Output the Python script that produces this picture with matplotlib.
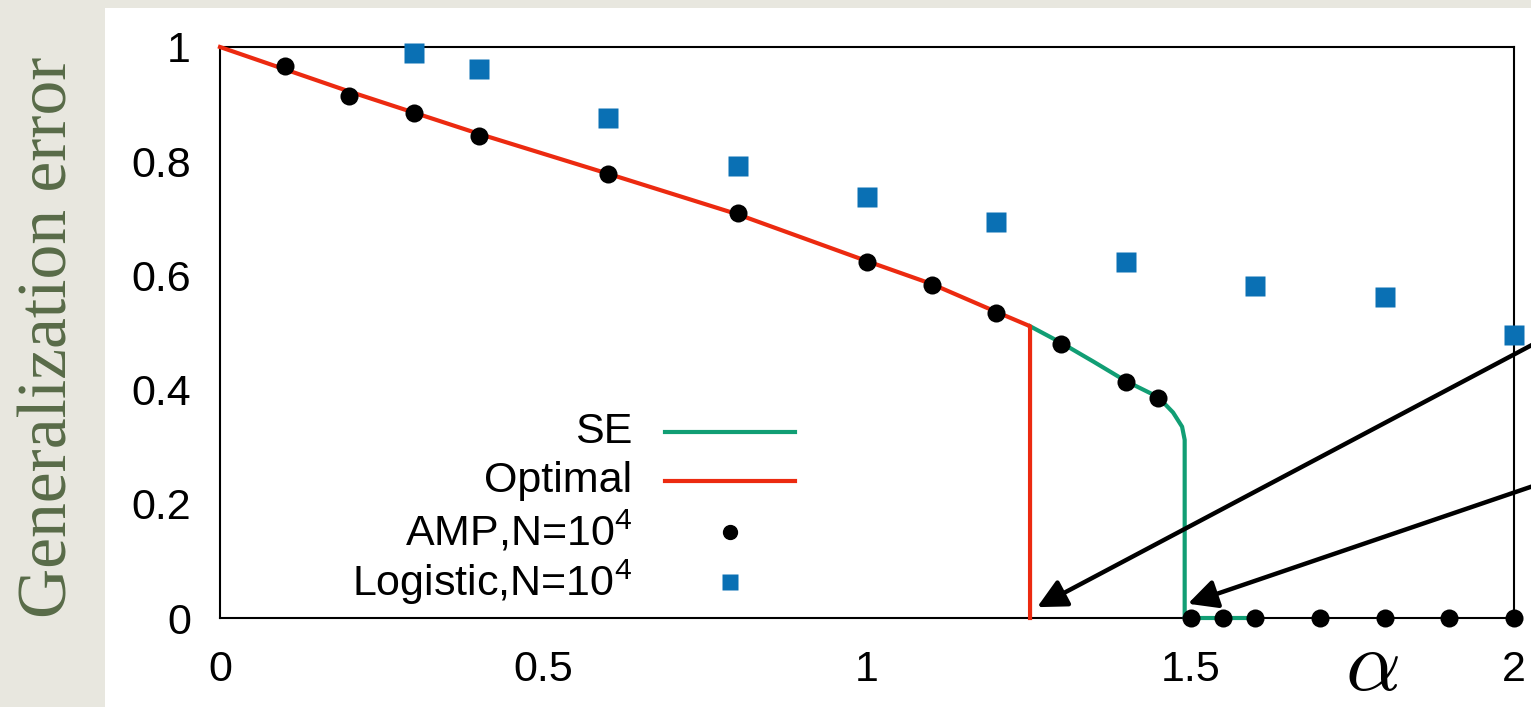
import matplotlib
matplotlib.use("Agg")
import matplotlib.pyplot as plt
from matplotlib.lines import Line2D
from matplotlib.patches import Rectangle

plt.rcParams['font.family'] = ['Liberation Sans', 'DejaVu Sans']
plt.rcParams['mathtext.fontset'] = 'cm'

W, H = 1531, 707

# AMP, N=10^4 (black dots)
alpha_amp = [0.1, 0.2, 0.3, 0.4, 0.6, 0.8, 1.0, 1.1, 1.2, 1.3, 1.4, 1.45,
             1.5, 1.55, 1.6, 1.7, 1.8, 1.9, 2.0]
err_amp = [0.967, 0.915, 0.884, 0.844, 0.778, 0.709, 0.624, 0.583, 0.534, 0.480, 0.413, 0.386,
           0.0, 0.0, 0.0, 0.0, 0.0, 0.0, 0.0]

# Logistic, N=10^4 (blue squares)
alpha_log = [0.3, 0.4, 0.6, 0.8, 1.0, 1.2, 1.4, 1.6, 1.8, 2.0]
err_log = [0.990, 0.961, 0.875, 0.791, 0.737, 0.693, 0.623, 0.582, 0.563, 0.495]

# Optimal (red curve)
alpha_opt = [0.0, 0.2, 0.4, 0.6, 0.8, 1.0, 1.1, 1.2, 1.252, 1.252]
err_opt = [1.0, 0.922, 0.848, 0.778, 0.707, 0.625, 0.585, 0.536, 0.511, 0.0]

# SE (green curve)
alpha_se = [1.252, 1.3, 1.35, 1.4, 1.45, 1.473, 1.487, 1.491, 1.491, 1.6]
err_se = [0.511, 0.482, 0.449, 0.415, 0.387, 0.360, 0.335, 0.312, 0.0, 0.0]

# arrows pointing at the two transitions
arrow_heads = [(1.263, 0.019), (1.496, 0.025)]
arrow_tails = [(2.164, 0.560), (2.164, 0.283)]

legend_labels = ['SE', 'Optimal', r'AMP,N=10$\mathregular{^4}$', r'Logistic,N=10$\mathregular{^4}$']

xticks = [0, 0.5, 1, 1.5, 2]
xticklabels = ['0', '0.5', '1', '1.5', '2']
yticks = [0, 0.2, 0.4, 0.6, 0.8, 1]
yticklabels = ['0', '0.2', '0.4', '0.6', '0.8', '1']
# only these tick marks show up in the original raster
xmarks = [0.5]
ymarks = [0.4, 0.6]

GREEN = '#119e74'
RED = '#ec2a10'
BLUE = '#0a70b4'

fig = plt.figure(figsize=(W / 100, H / 100), dpi=100)
fig.patch.set_facecolor('#e8e7df')
fig.add_artist(Rectangle((105 / W, 0), 1 - 105 / W, 1 - 8 / H, transform=fig.transFigure,
                         facecolor='white', edgecolor='none', zorder=0))

ax = fig.add_axes([220 / W, 1 - 618 / H, 1294 / W, 571 / H])
ax.set_xlim(0, 2)
ax.set_ylim(0, 1)

ax.plot(alpha_se, err_se, color=GREEN, lw=3, clip_on=False, zorder=3)
ax.plot(alpha_opt, err_opt, color=RED, lw=3, clip_on=False, zorder=3)
ax.plot(alpha_log, err_log, 's', color=BLUE, ms=14, mec='none', clip_on=False, zorder=4)
ax.plot(alpha_amp, err_amp, 'o', color='black', ms=13, mec='none', clip_on=False, zorder=5)

for head, tail in zip(arrow_heads, arrow_tails):
    ax.annotate('', xy=head, xytext=tail, annotation_clip=False,
                arrowprops=dict(arrowstyle='-|>', color='black', lw=3.2,
                                mutation_scale=44, shrinkA=0, shrinkB=0))

ax.set_xticks(xticks)
ax.set_xticklabels(xticklabels)
ax.set_yticks(yticks)
ax.set_yticklabels(yticklabels)
ax.set_xticks(xmarks, minor=True)
ax.set_yticks(ymarks, minor=True)
ax.tick_params(which='major', length=0, labelsize=31, colors='black')
ax.tick_params(axis='x', which='major', pad=23)
ax.tick_params(axis='y', which='major', pad=21)
ax.tick_params(which='minor', direction='in', length=10, width=1.2,
               top=True, right=True, labelbottom=False, labelleft=False)

for s in ax.spines.values():
    s.set_linewidth(1.5)
    s.set_color('black')

# legend in gnuplot style: label right aligned, sample to the right
rows_y = [432, 481, 532, 582]
samples = [dict(color=GREEN, lw=3), dict(color=RED, lw=3),
           dict(color='black', marker='o', ms=10, ls='none'),
           dict(color=BLUE, marker='s', ms=11, ls='none', mec='none')]
for lab, yy, st in zip(legend_labels, rows_y, samples):
    fig.text(632 / W, 1 - yy / H, lab, ha='right', va='center', fontsize=31)
    if st.get('ls') == 'none':
        fig.add_artist(Line2D([730 / W], [1 - yy / H], transform=fig.transFigure, **st))
    else:
        fig.add_artist(Line2D([665 / W, 795 / W], [1 - yy / H, 1 - yy / H],
                              transform=fig.transFigure, **st))

fig.text(50 / W, 1 - 337 / H, 'Generalization error', rotation=90, ha='center', va='center',
         fontsize=50, color='#586b48', family=['Liberation Serif', 'DejaVu Serif'])
fig.text(1372 / W, 1 - 668 / H, r'$\alpha$', ha='center', va='center', fontsize=62, color='black')

fig.savefig('out.png', dpi=100, facecolor=fig.get_facecolor())
